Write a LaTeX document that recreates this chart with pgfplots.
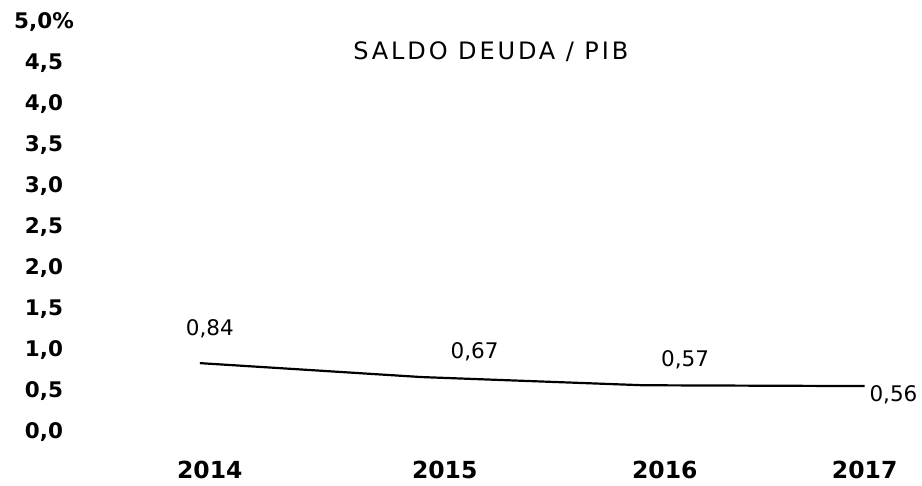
\documentclass[border=0pt]{standalone}
\usepackage{pgfplots}
\pgfplotsset{compat=1.18}
\usepackage{fontspec}
\setmainfont{DejaVu Sans}
\newfontfamily\titlefont[LetterSpace=12]{DejaVu Sans}
\begin{document}
\begin{tikzpicture}
\useasboundingbox (-89bp,-54bp) rectangle (833bp,432bp);
\begin{axis}[
  at={(0,0)}, anchor=south west,
  scale only axis, width=820bp, height=410bp,
  xmin=-0.5, xmax=3.2, ymin=0, ymax=5,
  axis line style={draw=none}, tick style={draw=none},
  clip=false,
  xtick={0.045,1.105,2.098,3.0},
  xticklabels={2014,2015,2016,2017},
  ytick={0,0.5,1,1.5,2,2.5,3,3.5,4,4.5,5},
  yticklabels={{0,0},{0,5},{1,0},{1,5},{2,0},{2,5},{3,0},{3,5},{4,0},{4,5},{5,0\%}},
  yticklabel style={anchor=center, xshift=-45bp, font=\fontsize{21.5bp}{25bp}\selectfont\bfseries},
  xticklabel style={anchor=center, yshift=-38bp, font=\fontsize{23.5bp}{27bp}\selectfont\bfseries},
]
\addplot[black, line width=2.2bp] coordinates {(0,0.84) (1,0.67) (2,0.57) (3,0.56)};
\node[font=\fontsize{21.5bp}{25bp}\selectfont] at (axis cs:0.045,1.256) {0,84};
\node[font=\fontsize{21.5bp}{25bp}\selectfont] at (axis cs:1.24,0.976) {0,67};
\node[font=\fontsize{21.5bp}{25bp}\selectfont] at (axis cs:2.19,0.878) {0,57};
\node[font=\fontsize{21.5bp}{25bp}\selectfont] at (axis cs:3.13,0.451) {0,56};
\node[font=\fontsize{24bp}{28bp}\selectfont\titlefont] at (axis cs:1.313,4.634) {SALDO DEUDA / PIB};
\end{axis}
\end{tikzpicture}
\end{document}
